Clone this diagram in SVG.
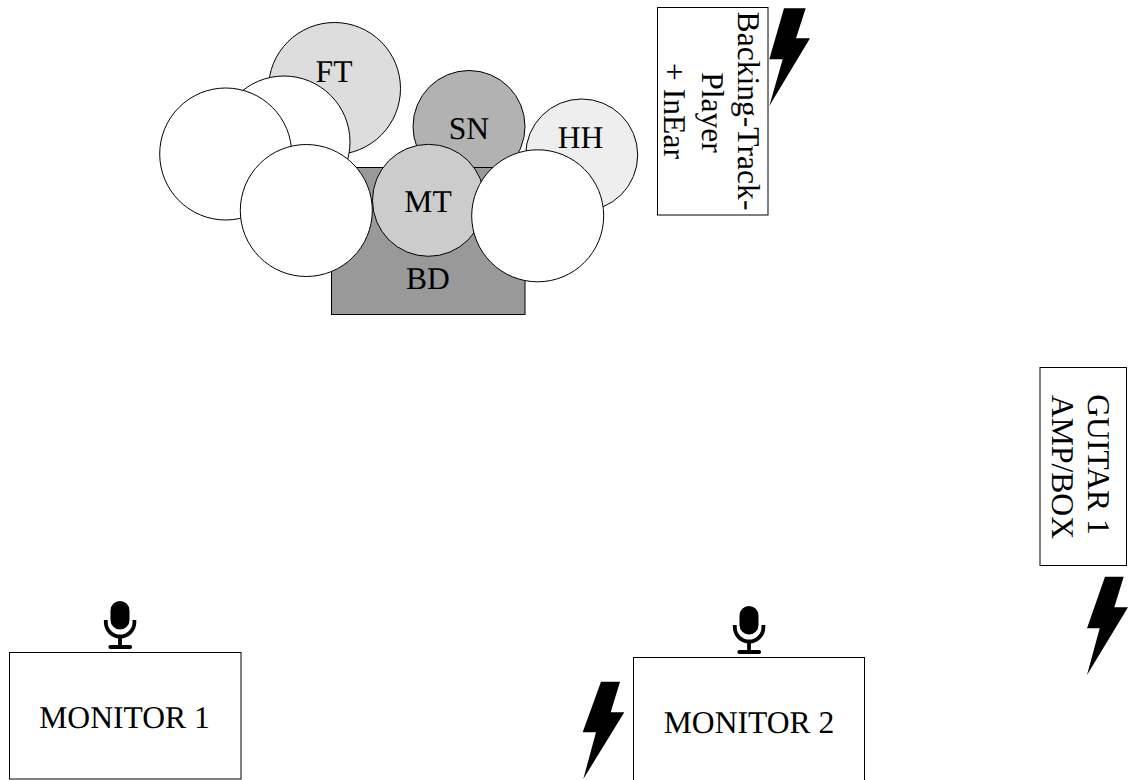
<svg xmlns="http://www.w3.org/2000/svg" width="1129" height="780" viewBox="0 0 1129 780">
<defs>
<style>
.s{stroke:#000;stroke-width:1}
.w{fill:#fff}
text{font-family:"Liberation Serif","Times New Roman",serif;font-size:31.6px;fill:#000;text-anchor:middle;text-rendering:geometricPrecision}
.m{fill:none;stroke:#000;stroke-width:3.8}
</style>
<g id="mic">
<rect x="110.5" y="601" width="19" height="28.5" rx="9.5" fill="#000"/>
<path class="m" d="M105.8 620V622.2a14.3 14.3 0 0 0 28.6 0V620"/>
<path class="m" d="M120 636V647"/>
<path class="m" d="M110.3 647H130.2" stroke-width="4" stroke-linecap="round"/>
</g>
</defs>
<rect width="1129" height="780" fill="#fff"/>
<g id="drums">
<g id="ft"><circle class="s" cx="334.5" cy="88.5" r="66" fill="#ddd"/><text x="334" y="81.5">FT</text></g>
<g id="sn"><circle class="s" cx="469" cy="126.5" r="56" fill="#b2b2b2"/><text x="469" y="139">SN</text></g>
<g id="hh"><circle class="s" cx="581.7" cy="155" r="56" fill="#eee"/><text x="580.5" y="147.5">HH</text></g>
<g id="bd"><rect class="s" x="331.5" y="167.5" width="193.5" height="147" fill="#999"/><text x="428" y="288.5">BD</text></g>
<g id="cymbal-back"><circle class="s w" cx="284" cy="142" r="66"/></g>
<g id="cymbal-left"><circle class="s w" cx="225.7" cy="154" r="66"/></g>
<g id="mt"><circle class="s" cx="428.5" cy="200.3" r="56" fill="#ccc"/><text x="428" y="212">MT</text></g>
<g id="cymbal-front"><circle class="s w" cx="306.3" cy="210.5" r="66"/></g>
<g id="cymbal-right"><circle class="s w" cx="537.7" cy="215.8" r="66"/></g>
</g>
<g id="backing">
<rect class="s w" x="657.5" y="7.5" width="110.5" height="207.5"/>
<text transform="translate(738 111) rotate(90)">Backing-Track-</text>
<text transform="translate(701.7 112.5) rotate(90)">Player</text>
<text transform="translate(664 111) rotate(90)">+ InEar</text>
</g>
<g id="bolt-backing"><path d="M784 8.3H805.7L796 38.3H810L769.3 106L782.7 59.3H769.3Z"/></g>
<g id="guitar">
<rect class="s w" x="1040" y="367.5" width="86.5" height="198"/>
<text transform="translate(1088.3 464.5) rotate(90)">GUITAR 1</text>
<text transform="translate(1052.3 467) rotate(90)">AMP/BOX</text>
</g>
<g id="bolt-guitar"><path d="M1105 576.7H1123.7L1114.3 607.3H1128L1087 675L1099.7 628.3H1087Z"/></g>
<g id="monitor1">
<rect class="s w" x="9.5" y="652.5" width="231.5" height="126.5"/>
<text x="124.5" y="728">MONITOR 1</text>
</g>
<g id="mic1"><use href="#mic"/></g>
<g id="monitor2">
<rect class="s w" x="633.5" y="657.5" width="231" height="127"/>
<text x="749" y="732.5">MONITOR 2</text>
</g>
<g id="mic2"><use href="#mic" x="629" y="5"/></g>
<g id="bolt-monitor2"><path d="M601 681.7H620L610.7 712.3H624.3L583.3 779L596 732.3H582.7Z"/></g>
</svg>
